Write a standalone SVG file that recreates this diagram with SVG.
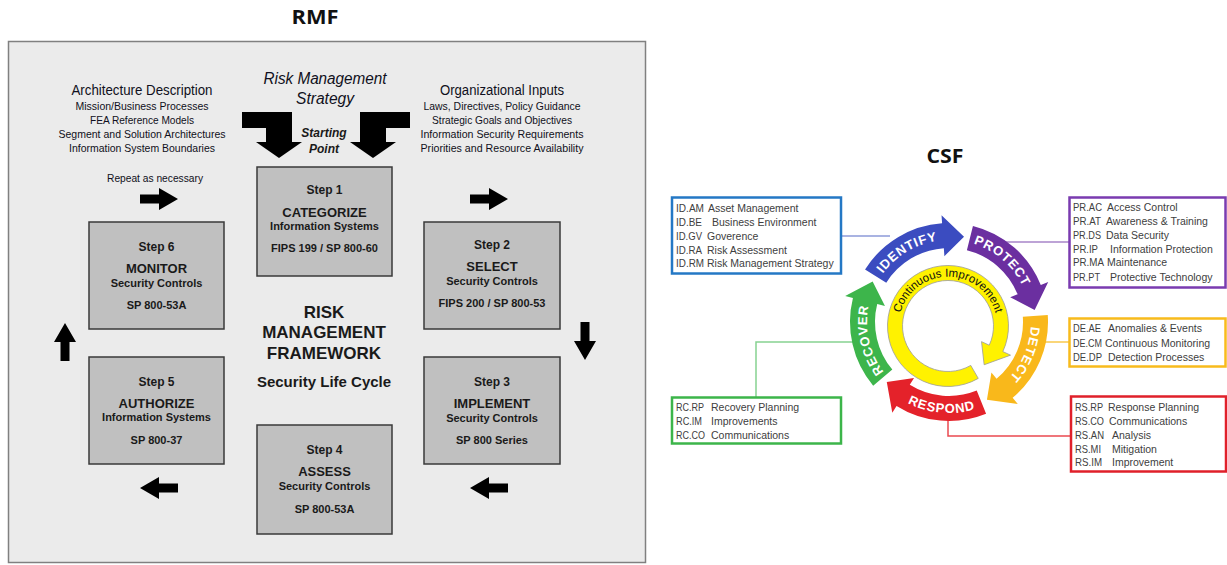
<svg xmlns="http://www.w3.org/2000/svg" width="1227" height="565" viewBox="0 0 1227 565">
<style>
.t{font-family:"Liberation Sans",Arial,sans-serif;fill:#1a1a1a}
.b{font-weight:bold}
.c{text-anchor:middle}
.box{fill:#c0c0c0;stroke:#3a3a3a;stroke-width:1.5}
.n{font-family:"Liberation Sans Narrow","Liberation Sans",Arial,sans-serif;fill:#101020;text-anchor:middle}
.ttl{font-family:"Open Sans","Liberation Sans",sans-serif;font-weight:bold;font-size:19px;fill:#111;text-anchor:middle}
.ct{font-family:"Liberation Sans",Arial,sans-serif;font-size:10.5px;fill:#404040}
.arc{font-family:"Liberation Sans",Arial,sans-serif;font-weight:bold;font-size:13px;fill:#fff;letter-spacing:0.8px}
.con{fill:none;stroke-width:1.5}
</style>
<defs>
<path id="blk" d="M-19,-4.5 H0 V-11 L19,0 L0,11 V4.5 H-19 Z" fill="#000"/>
<path id="pI" d="M871.47,295.30 A82 82 0 0 1 961.83,241.01"/>
<path id="pP" d="M950.43,240.01 A82 82 0 0 1 1029.99,309.17"/>
<path id="pD" d="M1027.42,298.02 A82 82 0 0 1 986.23,395.06"/>
<path id="pR" d="M884.65,386.35 A91 91 0 0 0 1001.20,396.55"/>
<path id="pC" d="M899.65,387.49 A82 82 0 0 1 875.94,284.77"/>
<path id="pY" d="M898.7,326 A49.3 49.3 0 0 1 997.3,326"/>
</defs>

<!-- RMF -->
<text class="ttl" x="315" y="24" textLength="47" lengthAdjust="spacingAndGlyphs">RMF</text>
<rect x="8.5" y="41.5" width="637" height="521" fill="#ebebeb" stroke="#808080" stroke-width="1.5"/>

<g id="arch">
<text class="n" x="142" y="95" font-size="14" textLength="141" lengthAdjust="spacingAndGlyphs">Architecture Description</text>
<text class="n" x="142" y="110" font-size="11" textLength="133" lengthAdjust="spacingAndGlyphs">Mission/Business Processes</text>
<text class="n" x="142" y="124" font-size="11" textLength="104" lengthAdjust="spacingAndGlyphs">FEA Reference Models</text>
<text class="n" x="142" y="138" font-size="11" textLength="167" lengthAdjust="spacingAndGlyphs">Segment and Solution Architectures</text>
<text class="n" x="142" y="152" font-size="11" textLength="146" lengthAdjust="spacingAndGlyphs">Information System Boundaries</text>
<text class="n" x="155" y="182" font-size="11" textLength="96" lengthAdjust="spacingAndGlyphs">Repeat as necessary</text>
</g>

<g id="strategy">
<text class="n" x="325" y="84" font-size="16" font-style="italic" textLength="123" lengthAdjust="spacingAndGlyphs">Risk Management</text>
<text class="n" x="325" y="104" font-size="16" font-style="italic" textLength="58" lengthAdjust="spacingAndGlyphs">Strategy</text>
<text class="t b c" x="324" y="137" font-size="12" font-style="italic">Starting</text>
<text class="t b c" x="324" y="153" font-size="12" font-style="italic">Point</text>
<path d="M242,112 H292 V142 H302 L279,158 L256,142 H266 V128 H242 Z" fill="#000"/>
<path d="M410,112 H360 V142 H350 L373,158 L396,142 H386 V128 H410 Z" fill="#000"/>
</g>

<g id="orginputs">
<text class="n" x="502" y="95" font-size="14" textLength="124" lengthAdjust="spacingAndGlyphs">Organizational Inputs</text>
<text class="n" x="502" y="110" font-size="11" textLength="157" lengthAdjust="spacingAndGlyphs">Laws, Directives, Policy Guidance</text>
<text class="n" x="502" y="124" font-size="11" textLength="140" lengthAdjust="spacingAndGlyphs">Strategic Goals and Objectives</text>
<text class="n" x="502" y="138" font-size="11" textLength="163" lengthAdjust="spacingAndGlyphs">Information Security Requirements</text>
<text class="n" x="502" y="152" font-size="11" textLength="163" lengthAdjust="spacingAndGlyphs">Priorities and Resource Availability</text>
</g>

<g id="step1">
<rect class="box" x="257" y="167" width="135" height="109"/>
<text class="t b c" x="324.5" y="194" font-size="12">Step 1</text>
<text class="t b c" x="324.5" y="217" font-size="13">CATEGORIZE</text>
<text class="t b c" x="324.5" y="230" font-size="11">Information Systems</text>
<text class="t b c" x="324.5" y="252" font-size="11">FIPS 199 / SP 800-60</text>
</g>
<g id="step2">
<rect class="box" x="424" y="222" width="136" height="107"/>
<text class="t b c" x="492" y="249" font-size="12">Step 2</text>
<text class="t b c" x="492" y="271" font-size="13">SELECT</text>
<text class="t b c" x="492" y="285" font-size="11">Security Controls</text>
<text class="t b c" x="492" y="307" font-size="11">FIPS 200 / SP 800-53</text>
</g>
<g id="step3">
<rect class="box" x="424" y="357" width="136" height="107"/>
<text class="t b c" x="492" y="386" font-size="12">Step 3</text>
<text class="t b c" x="492" y="408" font-size="13">IMPLEMENT</text>
<text class="t b c" x="492" y="422" font-size="11">Security Controls</text>
<text class="t b c" x="492" y="444" font-size="11">SP 800 Series</text>
</g>
<g id="step4">
<rect class="box" x="257" y="425" width="135" height="109"/>
<text class="t b c" x="324.5" y="454" font-size="12">Step 4</text>
<text class="t b c" x="324.5" y="476" font-size="13">ASSESS</text>
<text class="t b c" x="324.5" y="490" font-size="11">Security Controls</text>
<text class="t b c" x="324.5" y="513" font-size="11">SP 800-53A</text>
</g>
<g id="step5">
<rect class="box" x="89" y="357" width="135" height="107"/>
<text class="t b c" x="156.5" y="386" font-size="12">Step 5</text>
<text class="t b c" x="156.5" y="408" font-size="13">AUTHORIZE</text>
<text class="t b c" x="156.5" y="421" font-size="11">Information Systems</text>
<text class="t b c" x="156.5" y="444" font-size="11">SP 800-37</text>
</g>
<g id="step6">
<rect class="box" x="89" y="222" width="135" height="107"/>
<text class="t b c" x="156.5" y="251" font-size="12">Step 6</text>
<text class="t b c" x="156.5" y="273" font-size="13">MONITOR</text>
<text class="t b c" x="156.5" y="287" font-size="11">Security Controls</text>
<text class="t b c" x="156.5" y="309" font-size="11">SP 800-53A</text>
</g>

<g id="center">
<text class="t b c" x="324" y="318" font-size="17">RISK</text>
<text class="t b c" x="324" y="338" font-size="17">MANAGEMENT</text>
<text class="t b c" x="324" y="359" font-size="17">FRAMEWORK</text>
<text class="t b c" x="324" y="387" font-size="15">Security Life Cycle</text>
</g>

<g id="rmf-arrows">
<use href="#blk" transform="translate(159,199)"/>
<use href="#blk" transform="translate(489,199)"/>
<use href="#blk" transform="translate(585,341) rotate(90)"/>
<use href="#blk" transform="translate(489,488) rotate(180)"/>
<use href="#blk" transform="translate(159,488) rotate(180)"/>
<use href="#blk" transform="translate(65,342) rotate(-90)"/>
</g>

<!-- CSF -->
<text class="ttl" x="945" y="163" textLength="37" lengthAdjust="spacingAndGlyphs">CSF</text>

<g id="connectors">
<path class="con" d="M842,236 H890" stroke="#8d9ad8"/>
<path class="con" d="M1069,242 H1000" stroke="#a784c8"/>
<path class="con" d="M1069,342 H1030" stroke="#f9c94d"/>
<path class="con" d="M1071,436 H948 V405" stroke="#ea4a50"/>
<path class="con" d="M756,397 V342 H862" stroke="#86d291"/>
</g>

<g id="cycle">
<path id="identify" d="M865.05,269.54 A99 99 0 0 1 942.09,223.24 L941.53,215.26 L964.02,236.81 L944.39,256.16 L943.83,248.18 A74 74 0 0 0 886.25,282.79 Z" fill="#3b4cc0"/>
<path id="protect" d="M972.95,225.94 A99 99 0 0 1 1040.79,284.91 L1048.21,281.92 L1034.66,309.96 L1010.20,297.28 L1017.61,294.28 A74 74 0 0 0 966.90,250.20 Z" fill="#6b2fa0"/>
<path id="detect" d="M1047.76,315.09 A99 99 0 0 1 1012.64,397.83 L1017.78,403.96 L986.92,399.75 L991.42,372.56 L996.57,378.68 A74 74 0 0 0 1022.82,316.83 Z" fill="#f9b81b"/>
<path id="respond" d="M986.09,413.79 A99 99 0 0 1 896.54,405.95 L892.30,412.74 L886.78,382.09 L914.03,377.97 L909.79,384.75 A74 74 0 0 0 976.72,390.61 Z" fill="#e4222a"/>
<path id="recover" d="M873.17,385.64 A99 99 0 0 1 852.94,298.05 L845.18,296.12 L872.63,281.39 L884.96,306.03 L877.20,304.10 A74 74 0 0 0 892.32,369.57 Z" fill="#3db54b"/>
<text class="arc"><textPath href="#pI" startOffset="50%" text-anchor="middle">IDENTIFY</textPath></text>
<text class="arc"><textPath href="#pP" startOffset="50%" text-anchor="middle">PROTECT</textPath></text>
<text class="arc"><textPath href="#pD" startOffset="50%" text-anchor="middle">DETECT</textPath></text>
<text class="arc"><textPath href="#pR" startOffset="50%" text-anchor="middle">RESPOND</textPath></text>
<text class="arc"><textPath href="#pC" startOffset="50%" text-anchor="middle">RECOVER</textPath></text>
</g>

<g id="continuous">
<path d="M978.25,378.39 A60.5 60.5 0 1 1 1002.83,351.57 L1010.53,355.16 L984.15,364.76 L981.53,341.64 L989.24,345.23 A45.5 45.5 0 1 0 970.75,365.40 Z" fill="#fff200" stroke="#9a9a9a" stroke-width="0.8"/>
<text font-family="Liberation Sans, Arial, sans-serif" font-size="11.5" fill="#111"><textPath href="#pY" startOffset="50%" text-anchor="middle">Continuous Improvement</textPath></text>
</g>

<g id="id-box">
<rect x="672" y="197.5" width="169" height="76" fill="#fff" stroke="#2478c5" stroke-width="2.5"/>
<text class="ct" x="676" y="212" textLength="28" lengthAdjust="spacingAndGlyphs">ID.AM</text><text class="ct" x="708" y="212">Asset Management</text>
<text class="ct" x="676" y="226" textLength="26" lengthAdjust="spacingAndGlyphs">ID.BE</text><text class="ct" x="712" y="226">Business Environment</text>
<text class="ct" x="676" y="240" textLength="26" lengthAdjust="spacingAndGlyphs">ID.GV</text><text class="ct" x="707" y="240">Goverence</text>
<text class="ct" x="676" y="253.5" textLength="26" lengthAdjust="spacingAndGlyphs">ID.RA</text><text class="ct" x="707" y="253.5">Risk Assessment</text>
<text class="ct" x="676" y="267" textLength="28" lengthAdjust="spacingAndGlyphs">ID.RM</text><text class="ct" x="707" y="267">Risk Management Strategy</text>
</g>
<g id="pr-box">
<rect x="1069.5" y="197.5" width="156" height="90" fill="#fff" stroke="#7a3bb0" stroke-width="2.5"/>
<text class="ct" x="1073" y="211" textLength="29" lengthAdjust="spacingAndGlyphs">PR.AC</text><text class="ct" x="1107" y="211">Access Control</text>
<text class="ct" x="1073" y="225" textLength="28" lengthAdjust="spacingAndGlyphs">PR.AT</text><text class="ct" x="1106" y="225">Awareness &amp; Training</text>
<text class="ct" x="1073" y="238.5" textLength="28" lengthAdjust="spacingAndGlyphs">PR.DS</text><text class="ct" x="1106" y="238.5">Data Security</text>
<text class="ct" x="1073" y="252.5" textLength="25" lengthAdjust="spacingAndGlyphs">PR.IP</text><text class="ct" x="1110" y="252.5">Information Protection</text>
<text class="ct" x="1073" y="266" textLength="31" lengthAdjust="spacingAndGlyphs">PR.MA</text><text class="ct" x="1107" y="266">Maintenance</text>
<text class="ct" x="1073" y="280.5" textLength="27" lengthAdjust="spacingAndGlyphs">PR.PT</text><text class="ct" x="1110" y="280.5">Protective Technology</text>
</g>
<g id="de-box">
<rect x="1069.5" y="318.5" width="156" height="48" fill="#fff" stroke="#f8bb1c" stroke-width="2.5"/>
<text class="ct" x="1073" y="332" textLength="28" lengthAdjust="spacingAndGlyphs">DE.AE</text><text class="ct" x="1108" y="332">Anomalies &amp; Events</text>
<text class="ct" x="1073" y="347" textLength="29" lengthAdjust="spacingAndGlyphs">DE.CM</text><text class="ct" x="1105" y="347">Continuous Monitoring</text>
<text class="ct" x="1073" y="361" textLength="29" lengthAdjust="spacingAndGlyphs">DE.DP</text><text class="ct" x="1108" y="361">Detection Processes</text>
</g>
<g id="rs-box">
<rect x="1071" y="396.5" width="155" height="75" fill="#fff" stroke="#e0202a" stroke-width="2.5"/>
<text class="ct" x="1075" y="411" textLength="28" lengthAdjust="spacingAndGlyphs">RS.RP</text><text class="ct" x="1108" y="411">Response Planning</text>
<text class="ct" x="1075" y="425" textLength="29" lengthAdjust="spacingAndGlyphs">RS.CO</text><text class="ct" x="1109" y="425">Communications</text>
<text class="ct" x="1075" y="439" textLength="29" lengthAdjust="spacingAndGlyphs">RS.AN</text><text class="ct" x="1112" y="439">Analysis</text>
<text class="ct" x="1075" y="452.5" textLength="26" lengthAdjust="spacingAndGlyphs">RS.MI</text><text class="ct" x="1112" y="452.5">Mitigation</text>
<text class="ct" x="1075" y="466" textLength="27" lengthAdjust="spacingAndGlyphs">RS.IM</text><text class="ct" x="1112" y="466">Improvement</text>
</g>
<g id="rc-box">
<rect x="672" y="397.5" width="169" height="46" fill="#fff" stroke="#3cb54a" stroke-width="2.5"/>
<text class="ct" x="676" y="411" textLength="28" lengthAdjust="spacingAndGlyphs">RC.RP</text><text class="ct" x="711" y="411">Recovery Planning</text>
<text class="ct" x="676" y="424.5" textLength="26" lengthAdjust="spacingAndGlyphs">RC.IM</text><text class="ct" x="711" y="424.5">Improvements</text>
<text class="ct" x="676" y="439" textLength="29" lengthAdjust="spacingAndGlyphs">RC.CO</text><text class="ct" x="711" y="439">Communications</text>
</g>
</svg>
